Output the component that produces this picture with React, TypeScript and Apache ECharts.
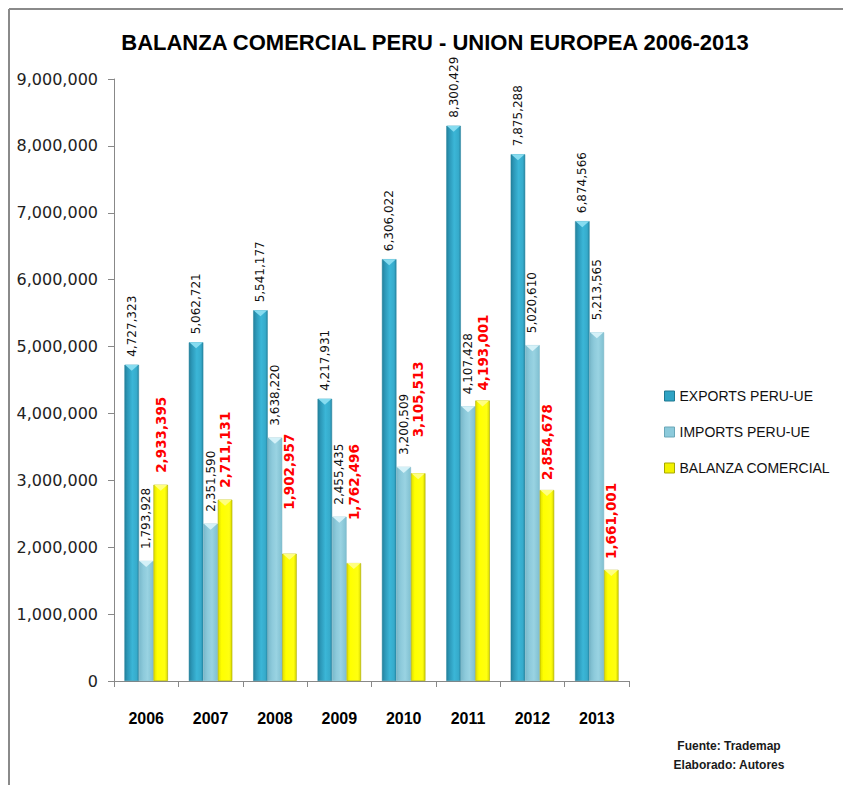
import React, { useEffect, useRef } from "react";
import * as echarts from "echarts";

const years = ["2006", "2007", "2008", "2009", "2010", "2011", "2012", "2013"];
const exportsPeruUe = [4727323, 5062721, 5541177, 4217931, 6306022, 8300429, 7875288, 6874566];
const importsPeruUe = [1793928, 2351590, 3638220, 2455435, 3200509, 4107428, 5020610, 5213565];
const balanzaComercial = [2933395, 2711131, 1902957, 1762496, 3105513, 4193001, 2854678, 1661001];
const balanzaLabelGap = [12, 12, 44, 43, 36, 10, 10, 11];

const seriesNames = ["EXPORTS PERU-UE", "IMPORTS PERU-UE", "BALANZA COMERCIAL"];
const titleText = "BALANZA COMERCIAL PERU - UNION EUROPEA 2006-2013";
const footerLines = ["Fuente: Trademap", "Elaborado: Autores"];

const fmt = (v: number) => Math.round(v).toLocaleString("en-US");

const BW = 14.5;

const grad = (stops: [number, string][]) =>
  new echarts.graphic.LinearGradient(0, 0, 1, 0, stops.map(([offset, color]) => ({ offset, color })));

export default function App() {
  const ref = useRef<HTMLDivElement>(null);

  useEffect(() => {
    if (!ref.current) return;
    const chart = echarts.init(ref.current, null, { renderer: "svg" });

    const exportFill = grad([
      [0, "#23819c"],
      [0.2, "#2c98b8"],
      [0.55, "#3bb6d7"],
      [0.85, "#36abcb"],
      [1, "#2786a3"],
    ]);
    const importFill = grad([
      [0, "#79b9cb"],
      [0.3, "#8dcadb"],
      [0.6, "#99d3e2"],
      [1, "#80c0d1"],
    ]);
    const yellowFill = grad([
      [0, "#dede00"],
      [0.25, "#ffff00"],
      [0.8, "#ffff10"],
      [1, "#d8d800"],
    ]);

    const bevel = (values: number[], offset: number, fill: string) => ({
      type: "custom",
      silent: true,
      z: 5,
      data: values.map((v, i) => [i, v]),
      encode: { x: 0, y: 1 },
      renderItem: (params: any, api: any) => {
        const c = api.coord([api.value(0), api.value(1)]);
        const x = c[0] + offset;
        const y = c[1];
        return {
          type: "polygon",
          shape: {
            points: [
              [x - BW / 2 + 0.5, y],
              [x + BW / 2 - 0.5, y],
              [x, y + 6],
            ],
          },
          style: { fill },
        };
      },
    });

    const option: any = {
      animation: false,
      backgroundColor: "#ffffff",
      textStyle: { fontFamily: "DejaVu Sans" },
      graphic: [
        { type: "line", shape: { x1: 1, y1: 1, x2: 843, y2: 1 }, style: { stroke: "#8a8a8a", lineWidth: 2 } },
        { type: "line", shape: { x1: 1, y1: 1, x2: 1, y2: 785 }, style: { stroke: "#8a8a8a", lineWidth: 2 } },
        {
          type: "text",
          x: 427,
          y: 34,
          style: {
            text: titleText,
            fontFamily: "Liberation Sans",
            fontWeight: "bold",
            fontSize: 22,
            fill: "#000",
            align: "center",
            verticalAlign: "middle",
          },
        },
        {
          type: "text",
          x: 721,
          y: 738,
          style: {
            text: footerLines[0],
            fontFamily: "Liberation Sans",
            fontWeight: "bold",
            fontSize: 12,
            fill: "#1a1a1a",
            align: "center",
            verticalAlign: "middle",
          },
        },
        {
          type: "text",
          x: 721,
          y: 757,
          style: {
            text: footerLines[1],
            fontFamily: "Liberation Sans",
            fontWeight: "bold",
            fontSize: 12,
            fill: "#1a1a1a",
            align: "center",
            verticalAlign: "middle",
          },
        },
      ],
      legend: {
        data: seriesNames.map((n, i) => ({
          name: n,
          icon: "rect",
          itemStyle: { color: ["#2fa3c4", "#8ccadb", "#f2f200"][i], borderColor: ["#1f7891", "#6aa7b8", "#a8a800"][i], borderWidth: 1 },
        })),
        orient: "vertical",
        left: 651,
        top: 376,
        itemWidth: 10,
        itemHeight: 10,
        itemGap: 22,
        textStyle: { fontFamily: "Liberation Sans", fontSize: 14, color: "#111" },
      },
      grid: { left: 106, top: 71, width: 515, height: 602, containLabel: false },
      xAxis: {
        type: "category",
        data: years,
        axisLine: { lineStyle: { color: "#888", width: 1 } },
        axisTick: { show: true, length: 6, alignWithLabel: false, lineStyle: { color: "#888" } },
        axisLabel: {
          margin: 29,
          fontFamily: "Liberation Sans",
          fontWeight: "bold",
          fontSize: 16,
          color: "#000",
        },
      },
      yAxis: {
        type: "value",
        min: 0,
        max: 9000000,
        interval: 1000000,
        splitLine: { show: false },
        axisLine: { show: true, lineStyle: { color: "#888", width: 1 } },
        axisTick: { show: true, length: 6, lineStyle: { color: "#888" } },
        axisLabel: {
          margin: 16,
          fontFamily: "DejaVu Sans",
          fontSize: 16,
          color: "#222",
          formatter: (v: number) => fmt(v),
        },
      },
      series: [
        {
          name: seriesNames[0],
          type: "bar",
          barWidth: BW,
          barGap: "0%",
          data: exportsPeruUe,
          itemStyle: { color: exportFill, borderColor: "#24829c", borderWidth: 0.5 },
          label: {
            show: true,
            position: "top",
            distance: 8,
            rotate: 90,
            align: "left",
            verticalAlign: "middle",
            fontFamily: "DejaVu Sans",
            fontSize: 12,
            color: "#111",
            formatter: (p: any) => fmt(p.value),
          },
        },
        {
          name: seriesNames[1],
          type: "bar",
          barWidth: BW,
          barGap: "0%",
          data: importsPeruUe,
          itemStyle: { color: importFill, borderColor: "#72b0c1", borderWidth: 0.5 },
          label: {
            show: true,
            position: "top",
            distance: 12,
            rotate: 90,
            align: "left",
            verticalAlign: "middle",
            fontFamily: "DejaVu Sans",
            fontSize: 12,
            color: "#111",
            formatter: (p: any) => fmt(p.value),
          },
        },
        {
          name: seriesNames[2],
          type: "bar",
          barWidth: BW,
          barGap: "0%",
          data: balanzaComercial.map((v, i) => ({ value: v, label: { distance: balanzaLabelGap[i] } })),
          itemStyle: { color: yellowFill, borderColor: "#a9a900", borderWidth: 0.6 },
          label: {
            show: true,
            position: "top",
            rotate: 90,
            align: "left",
            verticalAlign: "middle",
            fontFamily: "DejaVu Sans",
            fontWeight: "bold",
            fontSize: 13.5,
            color: "#ff0000",
            formatter: (p: any) => fmt(p.value),
          },
        },
        bevel(exportsPeruUe, -BW, "#86dcf0"),
        bevel(importsPeruUe, 0, "#d4f1f8"),
        bevel(balanzaComercial, BW, "#ffff80"),
      ],
    };

    chart.setOption(option);
    return () => chart.dispose();
  }, []);

  return <div ref={ref} style={{ width: 835, height: 777 }} />;
}
